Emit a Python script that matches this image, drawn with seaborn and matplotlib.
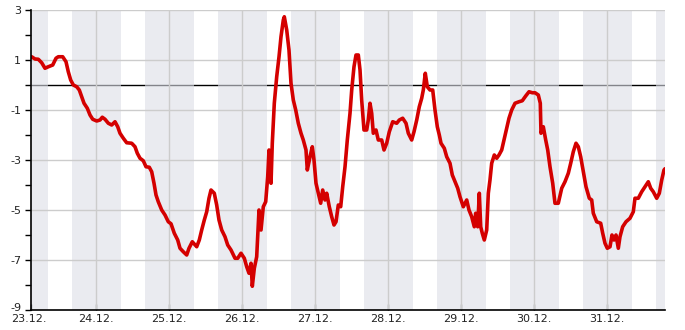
import numpy as np
import pandas as pd
import matplotlib
matplotlib.use("Agg")
import matplotlib.pyplot as plt
import matplotlib.transforms as mtransforms
import seaborn as sns

# hours since 23.12. 00:00
hours = [2.53, 2.76, 3.85, 4.93, 6.05, 7.13, 8.22, 9.67, 10.75, 11.51, 12.95, 14.04, 14.79, 15.58,
         16.44, 17.56, 18.41, 19.2, 19.96, 21.04, 21.93, 22.82, 24.13, 25.22, 25.97, 26.86, 27.95,
         29.06, 30.15, 31.04, 31.79, 32.88, 33.99, 35.64, 36.72, 37.48, 38.37, 39.45, 40.34, 41.42,
         42.21, 42.97, 43.63, 44.38, 45.5, 46.59, 47.67, 48.56, 49.64, 50.76, 51.52, 52.6, 53.72,
         54.48, 55.56, 57.01, 57.86, 58.65, 59.51, 60.3, 61.05, 61.71, 62.79, 63.58, 64.34, 65.23,
         66.31, 67.2, 68.29, 69.6, 70.49, 71.57, 72.66, 73.45, 74.2, 74.86, 75.29, 75.95, 76.73,
         77.49, 78.15, 78.9, 79.69, 80.35, 80.78, 81.44, 81.86, 82.52, 83.31, 84.07, 84.72, 85.48,
         85.81, 86.6, 87.35, 88.01, 88.77, 89.56, 90.41, 91.3, 92.05, 92.94, 93.37, 94.26, 95.01,
         95.57, 96.23, 96.99, 97.77, 98.43, 99.19, 99.75, 100.6, 101.39, 102.15, 102.81, 103.56,
         104.35, 105.01, 105.77, 106.52, 107.41, 107.97, 108.72, 109.38, 110.14, 110.7, 111.25,
         112.01, 112.9, 113.42, 113.98, 114.54, 115.07, 115.95, 116.71, 117.83, 118.59, 119.47,
         120.33, 121.45, 122.76, 123.62, 124.73, 125.82, 126.58, 127.69, 128.45, 129.34, 130.19,
         130.98, 131.51, 132.16, 132.82, 133.71, 134.6, 135.35, 136.11, 136.77, 137.33, 138.41,
         139.2, 140.28, 141.04, 141.93, 142.82, 143.57, 144.66, 145.78, 146.53, 147.42, 148.27,
         148.73, 149.39, 149.92, 150.38, 150.9, 151.56, 152.35, 152.88, 153.43, 153.99, 154.85,
         155.64, 156.39, 157.28, 158.04, 158.93, 159.68, 160.57, 161.66, 162.97, 164.05, 165.17,
         166.26, 167.34, 168.23, 169.32, 169.97, 170.2, 170.96, 171.75, 172.41, 173.16, 174.05,
         174.8, 175.89, 177.01, 178.09, 179.18, 179.97, 180.82, 181.71, 182.47, 183.25, 184.11,
         185.0, 186.08, 186.87, 187.4, 188.52, 189.83, 190.49, 191.24, 192.0, 192.89, 193.54,
         194.2, 194.86, 195.62, 196.17, 197.06, 198.15, 199.46, 200.55, 201.1, 202.19, 203.31,
         204.4, 205.48, 206.27, 207.12, 208.24, 209.1, 209.89, 210.64, 210.97]

temps = [1.1, 1.13, 1.04, 1.03, 0.89, 0.67, 0.73, 0.8, 1.07, 1.13, 1.13, 0.93, 0.53, 0.2,
         0.0, -0.07, -0.2, -0.47, -0.73, -0.93, -1.2, -1.37, -1.44, -1.4, -1.29, -1.37, -1.53,
         -1.6, -1.47, -1.67, -1.93, -2.13, -2.31, -2.33, -2.47, -2.73, -2.93, -3.03, -3.27, -3.29,
         -3.47, -3.93, -4.4, -4.67, -5.0, -5.2, -5.47, -5.55, -5.93, -6.2, -6.53, -6.67, -6.8,
         -6.53, -6.27, -6.47, -6.2, -5.8, -5.4, -5.07, -4.53, -4.2, -4.33, -4.8, -5.4, -5.8,
         -6.07, -6.4, -6.6, -6.93, -6.93, -6.73, -6.93, -7.27, -7.53, -7.13, -8.05, -7.33, -6.87,
         -5.0, -5.8, -4.87, -4.67, -3.67, -2.6, -3.93, -2.33, -0.73, 0.33, 1.13, 1.93, 2.6,
         2.73, 2.2, 1.4, 0.07, -0.6, -1.0, -1.53, -1.93, -2.2, -2.6, -3.4, -2.87, -2.47,
         -3.0, -3.93, -4.33, -4.73, -4.2, -4.6, -4.33, -4.87, -5.27, -5.6, -5.47, -4.8,
         -4.87, -4.07, -3.27, -2.2, -1.13, -0.2, 0.73, 1.2, 1.2, 0.6, -0.6,
         -1.8, -1.8, -1.4, -0.73, -1.13, -1.93, -1.8, -2.2, -2.2, -2.6, -2.33,
         -1.87, -1.47, -1.53, -1.4, -1.33, -1.53, -1.93, -2.2, -1.87, -1.4, -0.87,
         -0.53, -0.2, 0.47, -0.07, -0.2, -0.2, -1.0, -1.67, -2.0, -2.33, -2.53,
         -2.87, -3.13, -3.6, -3.87, -4.13, -4.47, -4.87, -4.6, -5.0, -5.27, -5.67,
         -5.13, -5.67, -4.33, -5.67, -5.93, -6.2, -5.8, -4.33, -3.8, -3.13, -2.8,
         -2.93, -2.8, -2.6, -2.2, -1.73, -1.33, -1.0, -0.73, -0.67, -0.63, -0.44,
         -0.27, -0.31, -0.31, -0.4, -0.73, -1.93, -1.67, -2.2, -2.6, -3.27, -3.93,
         -4.73, -4.73, -4.13, -3.87, -3.53, -3.13, -2.67, -2.33, -2.47, -2.87, -3.47,
         -4.07, -4.53, -4.6, -5.13, -5.47, -5.53, -5.93, -6.33, -6.53, -6.47, -6.0,
         -6.2, -6.0, -6.53, -6.07, -5.67, -5.47, -5.33, -5.07, -4.53, -4.53, -4.27,
         -4.07, -3.87, -4.13, -4.27, -4.53, -4.33, -3.8, -3.4, -3.35]

day_labels = ["23.12.", "24.12.", "25.12.", "26.12.", "27.12.", "28.12.", "29.12.", "30.12.", "31.12."]
y_major = [-9, -7, -5, -3, -1, 1, 3]
y_minor = [-8, -6, -4, -2, 0, 2]

df = pd.DataFrame({"hours": hours, "temp": temps})

sns.set_theme(style="white")
plt.rcParams["font.family"] = ["DejaVu Sans"]

fig = plt.figure(figsize=(6.85, 3.30), dpi=100)
ax = fig.add_axes([31 / 685, 20 / 330, 634 / 685, 300 / 330])

x_min, x_max = 2.53, 210.97

# zero line beneath the night bands
ax.axhline(0, color="black", lw=1.0, zorder=0.6)

# night bands 16:00 -> 08:00
for k in range(0, 10):
    start = 24 * k - 8
    end = 24 * k + 8
    ax.axvspan(max(start, x_min), min(end, x_max), facecolor=(220 / 255, 222 / 255, 231 / 255),
               alpha=0.6, lw=0, zorder=0.8)

# grid lines
for v in y_major:
    ax.axhline(v, color="#cccccc", lw=1.0, zorder=1.2)
for k in range(1, len(day_labels)):
    ax.axvline(24 * k, color="#cccccc", lw=1.0, zorder=1.2)

sns.lineplot(data=df, x="hours", y="temp", ax=ax, color="#d40000", lw=2.6,
             zorder=3, estimator=None, sort=False)

ax.set_xlim(x_min, x_max)
ax.set_ylim(-9, 3)

xticks = [x_min] + [24 * k for k in range(1, len(day_labels))]
ax.set_xticks(xticks)
ax.set_xticklabels(day_labels, fontsize=8, color="#222222")
ax.set_yticks(y_major)
ax.set_yticklabels([str(v) for v in y_major], fontsize=8, color="#222222")
ax.set_yticks(y_minor, minor=True)

ax.tick_params(axis="x", direction="in", length=4, width=1, color="black", pad=3, bottom=True)
ax.tick_params(axis="y", which="both", direction="out", length=4, width=1, color="black", pad=3, left=True)

# nudge bottom y label up and first x label left, as in the reference
yl = ax.get_yticklabels()
yl[0].set_transform(yl[0].get_transform() + mtransforms.ScaledTranslation(0, 3 / 100, fig.dpi_scale_trans))
xl = ax.get_xticklabels()
xl[0].set_transform(xl[0].get_transform() + mtransforms.ScaledTranslation(-2 / 100, 0, fig.dpi_scale_trans))

ax.set_xlabel("")
ax.set_ylabel("")
ax.grid(False)
for s in ["top", "right"]:
    ax.spines[s].set_visible(False)
for s in ["left", "bottom"]:
    ax.spines[s].set_color("black")
    ax.spines[s].set_linewidth(1.2)
    ax.spines[s].set_zorder(4)

fig.savefig("out.png", dpi=100)
